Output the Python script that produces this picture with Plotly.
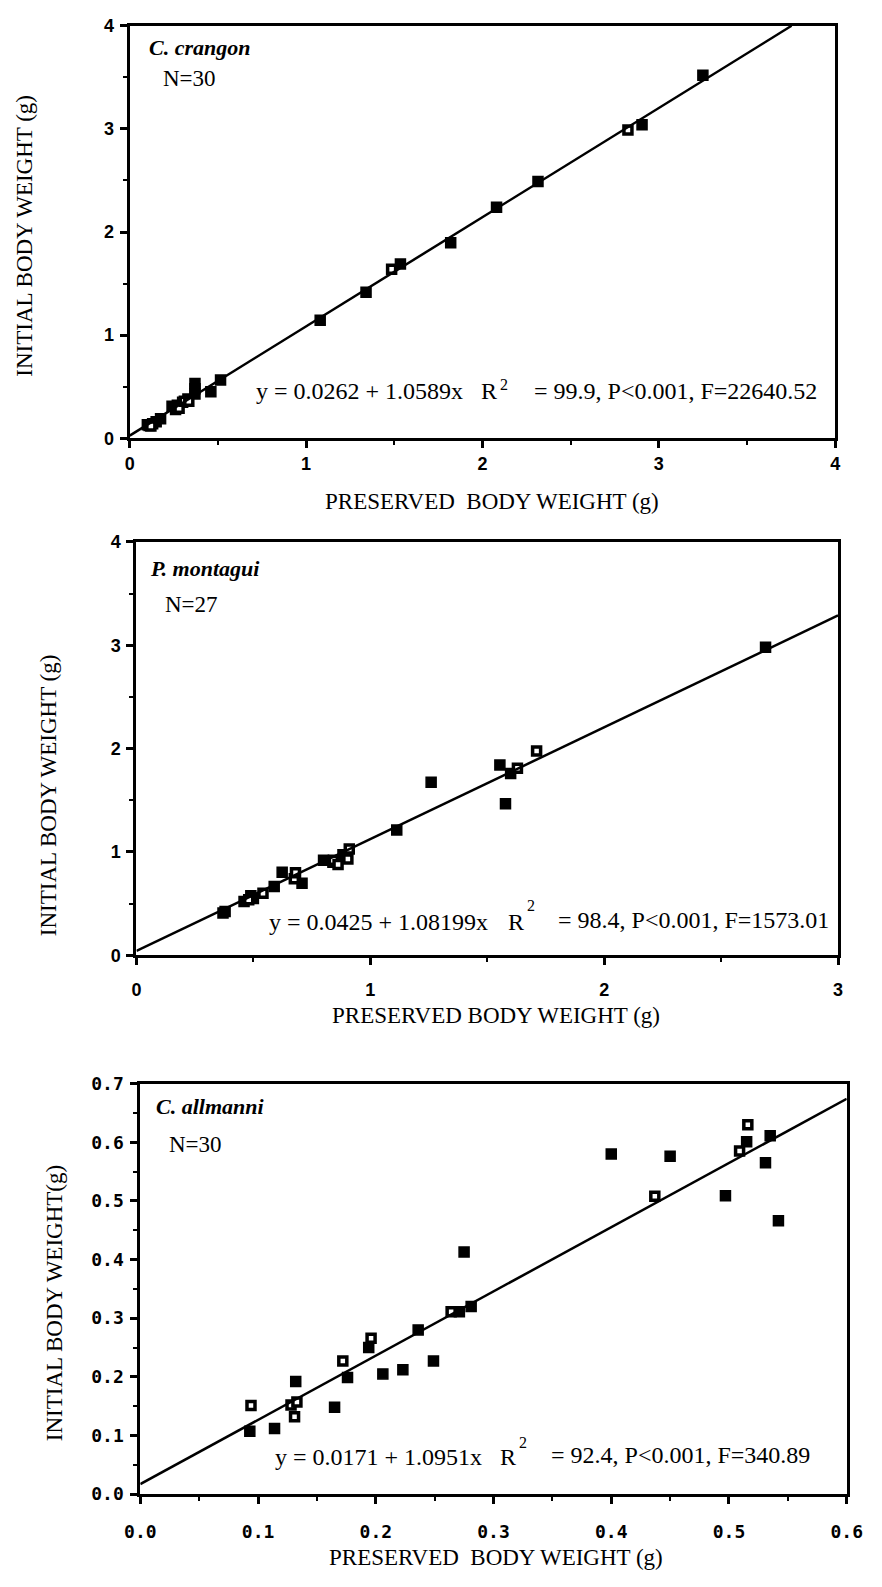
import plotly.graph_objects as go

# ---------------- data ----------------
# Panel 1: C. crangon
cc_x_filled = [0.10, 0.11, 0.13, 0.15, 0.175, 0.24, 0.26, 0.27, 0.30, 0.33, 0.37, 0.37, 0.37,
               0.46, 0.515, 1.08, 1.34, 1.535, 1.82, 2.08, 2.315, 2.905, 3.25]
cc_y_filled = [0.13, 0.125, 0.14, 0.16, 0.19, 0.31, 0.28, 0.32, 0.35, 0.38, 0.43, 0.48, 0.53,
               0.45, 0.565, 1.145, 1.415, 1.69, 1.895, 2.24, 2.49, 3.04, 3.52]
cc_x_open = [0.12, 0.28, 0.31, 0.335, 1.485, 2.825]
cc_y_open = [0.12, 0.29, 0.36, 0.36, 1.64, 2.99]
cc_a, cc_b = 0.0262, 1.0589
cc_ticks = [0, 1, 2, 3, 4]
cc_labels = ["0", "1", "2", "3", "4"]

# Panel 2: P. montagui
pm_x_filled = [0.37, 0.379, 0.46, 0.489, 0.50, 0.589, 0.623, 0.708, 0.80, 0.84, 0.883,
               1.113, 1.26, 1.554, 1.578, 1.60, 2.69]
pm_y_filled = [0.41, 0.423, 0.52, 0.576, 0.55, 0.665, 0.805, 0.697, 0.919, 0.90, 0.974,
               1.212, 1.674, 1.842, 1.467, 1.76, 2.98]
pm_x_open = [0.48, 0.541, 0.675, 0.68, 0.842, 0.862, 0.904, 0.91, 1.629, 1.711]
pm_y_open = [0.537, 0.60, 0.74, 0.80, 0.92, 0.878, 0.933, 1.028, 1.81, 1.976]
pm_a, pm_b = 0.0425, 1.08199
pm_xticks = [0, 1, 2, 3]
pm_xlabels = ["0", "1", "2", "3"]
pm_yticks = [0, 1, 2, 3, 4]
pm_ylabels = ["0", "1", "2", "3", "4"]

# Panel 3: C. allmanni
ca_x_filled = [0.093, 0.114, 0.132, 0.165, 0.176, 0.194, 0.206, 0.223, 0.236, 0.249, 0.271,
               0.281, 0.275, 0.40, 0.45, 0.497, 0.515, 0.531, 0.535, 0.542]
ca_y_filled = [0.107, 0.112, 0.192, 0.148, 0.199, 0.25, 0.205, 0.212, 0.28, 0.227, 0.311,
               0.32, 0.413, 0.58, 0.576, 0.509, 0.601, 0.565, 0.611, 0.466]
ca_x_open = [0.094, 0.128, 0.131, 0.133, 0.172, 0.196, 0.264, 0.437, 0.509, 0.516]
ca_y_open = [0.151, 0.152, 0.132, 0.157, 0.227, 0.266, 0.311, 0.508, 0.585, 0.63]
ca_a, ca_b = 0.0171, 1.0951
ca_xticks = [0.0, 0.1, 0.2, 0.3, 0.4, 0.5, 0.6]
ca_xlabels = ["0.0", "0.1", "0.2", "0.3", "0.4", "0.5", "0.6"]
ca_yticks = [0.0, 0.1, 0.2, 0.3, 0.4, 0.5, 0.6, 0.7]
ca_ylabels = ["0.0", "0.1", "0.2", "0.3", "0.4", "0.5", "0.6", "0.7"]

# ---------------- layout helpers ----------------
W, H = 882, 1587
def fx(px):
    return px / W
def fy(py):
    return 1 - py / H

SERIF = "Liberation Serif, Times New Roman, serif"
SANS = "Liberation Sans, Arial, sans-serif"
MONO = "DejaVu Sans Mono, monospace"

fig = go.Figure()

def add_panel(n, xf, yf, xo, yo, a, b, xmax):
    xa = "x" if n == 1 else f"x{n}"
    ya = "y" if n == 1 else f"y{n}"
    fig.add_trace(go.Scatter(x=xf, y=yf, mode="markers", xaxis=xa, yaxis=ya,
                             marker=dict(symbol="square", size=10, color="black",
                                         line=dict(color="black", width=1.5)),
                             showlegend=False, hoverinfo="skip"))
    fig.add_trace(go.Scatter(x=xo, y=yo, mode="markers", xaxis=xa, yaxis=ya,
                             marker=dict(symbol="square", size=8, color="white",
                                         line=dict(color="black", width=3.5)),
                             showlegend=False, hoverinfo="skip"))
    fig.add_trace(go.Scatter(x=[0, xmax], y=[a, a + b * xmax], mode="lines",
                             xaxis=xa, yaxis=ya, line=dict(color="black", width=2.5),
                             showlegend=False, hoverinfo="skip"))

add_panel(1, cc_x_filled, cc_y_filled, cc_x_open, cc_y_open, cc_a, cc_b, (4 - cc_a) / cc_b)
add_panel(2, pm_x_filled, pm_y_filled, pm_x_open, pm_y_open, pm_a, pm_b, 3.0)
add_panel(3, ca_x_filled, ca_y_filled, ca_x_open, ca_y_open, ca_a, ca_b, 0.6)

def axis(domain, rng, tickvals, ticklabels, minor_dtick, font, standoff):
    return dict(domain=domain, range=rng, tickmode="array", tickvals=tickvals,
                ticktext=["<b>" + t + "</b>" for t in ticklabels],
                showline=True, linewidth=3, linecolor="black", mirror=True,
                ticks="outside", ticklen=7, tickwidth=2.5, tickcolor="black",
                minor=dict(tickmode="linear", tick0=0, dtick=minor_dtick, ticks="outside",
                           ticklen=4, tickwidth=2, tickcolor="black"),
                showgrid=False, zeroline=False, tickfont=font,
                ticklabelstandoff=standoff, fixedrange=True)

tf = dict(family=SANS, size=18, color="black")
tf3 = dict(family=MONO, size=18, color="black")

layout = dict(
    width=W, height=H, margin=dict(l=0, r=0, t=0, b=0),
    paper_bgcolor="white", plot_bgcolor="white",
    xaxis=axis([fx(118), fx(850)], [0, 4], cc_ticks, cc_labels, 0.5, tf, 0),
    yaxis=axis([fy(433), fy(15)], [0, 4], cc_ticks, cc_labels, 0.5, tf, 2),
    xaxis2=axis([fx(125), fx(853)], [0, 3], pm_xticks, pm_xlabels, 0.5, tf, 9),
    yaxis2=axis([fy(957), fy(538)], [0, 4], pm_yticks, pm_ylabels, 0.5, tf, 2),
    xaxis3=axis([fx(129), fx(862)], [0, 0.6], ca_xticks, ca_xlabels, 0.05, tf3, 12),
    yaxis3=axis([fy(1503), fy(1087)], [0, 0.7], ca_yticks, ca_ylabels, 0.05, tf3, 3),
)
layout["xaxis"]["anchor"] = "y"
layout["yaxis"]["anchor"] = "x"
layout["xaxis2"]["anchor"] = "y2"
layout["yaxis2"]["anchor"] = "x2"
layout["xaxis3"]["anchor"] = "y3"
layout["yaxis3"]["anchor"] = "x3"
fig.update_layout(**layout)

def txt(s, x, y, size=23, italic=False, anchor="left", angle=0):
    fig.add_annotation(text=s, x=fx(x), y=fy(y), xref="paper", yref="paper",
                       xanchor=anchor, yanchor="middle", showarrow=False, textangle=angle,
                       font=dict(family=SERIF, size=size, color="black",
                                 style="italic" if italic else "normal"))

NB = "\u00a0"
# Panel 1 text
txt("<b>C. crangon</b>", 136, 37, 22, italic=True)
txt("N=30", 150, 68, 23)
txt("y = 0.0262 + 1.0589x", 247, 385, 24)
txt("R", 480, 385, 24)
txt("2", 500, 379, 16)
txt("= 99.9, P&lt;0.001, F=22640.52", 535, 385, 24)
txt("PRESERVED" + NB + NB + "BODY WEIGHT (g)", 494, 497, 23, anchor="center")
txt("INITIAL BODY WEIGHT (g)", 9, 228, 23, anchor="center", angle=-90)

# Panel 2 text
txt("<b>P. montagui</b>", 137, 565, 22, italic=True)
txt("N=27", 153, 601, 23)
txt("y = 0.0425 + 1.08199x", 260, 923, 24)
txt("R", 508, 923, 24)
txt("2", 528, 907, 16)
txt("= 98.4, P&lt;0.001, F=1573.01", 560, 921, 24)
txt("PRESERVED BODY WEIGHT (g)", 498, 1018, 23, anchor="center")
txt("INITIAL BODY WEIGHT (g)", 34, 795, 23, anchor="center", angle=-90)

# Panel 3 text
txt("<b>C. allmanni</b>", 143, 1110, 22, italic=True)
txt("N=30", 157, 1149, 23)
txt("y = 0.0171 + 1.0951x", 267, 1465, 24)
txt("R", 500, 1465, 24)
txt("2", 520, 1451, 16)
txt("= 92.4, P&lt;0.001, F=340.89", 553, 1463, 24)
txt("PRESERVED" + NB + NB + "BODY WEIGHT (g)", 498, 1567, 23, anchor="center")
txt("INITIAL BODY WEIGHT(g)", 40, 1310, 23, anchor="center", angle=-90)

fig.write_html("out.html")
